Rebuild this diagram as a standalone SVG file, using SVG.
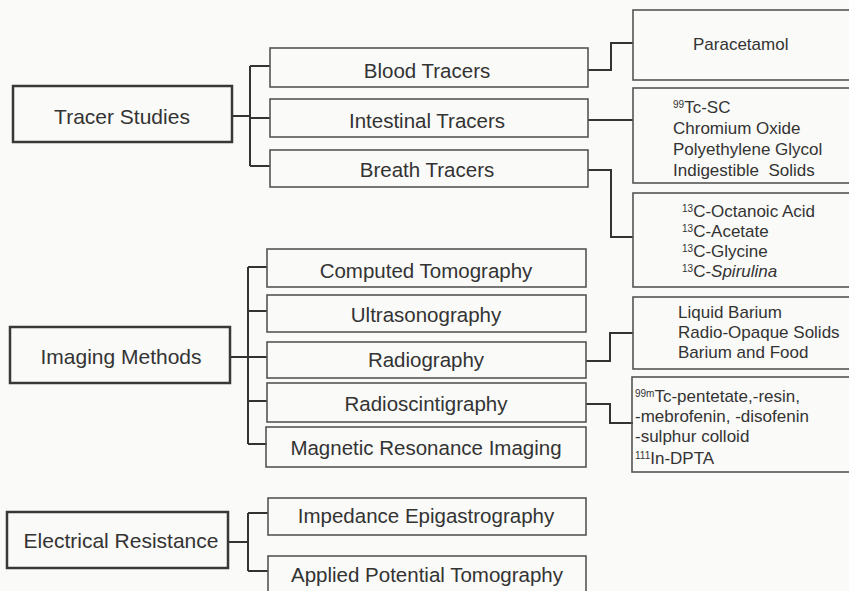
<svg xmlns="http://www.w3.org/2000/svg" width="849" height="591" viewBox="0 0 849 591">
<style>
.bg{fill:#fafaf8}
.main{fill:none;stroke:#383838;stroke-width:2.5}
.box{fill:none;stroke:#555;stroke-width:1.6}
.conn{fill:none;stroke:#333;stroke-width:2}
text{font-family:"Liberation Sans",Arial,sans-serif;fill:#333}
.t1{font-size:21px;text-anchor:middle}
.t2{font-size:20.5px;text-anchor:middle}
.t3{font-size:17px}
.sup{font-size:10px}
</style>
<rect class="bg" x="0" y="0" width="849" height="591"/>
<g id="connectors">
<path class="conn" d="M232,116 H250 M250,66 V166 M250,66 H270 M250,118 H270 M250,166 H270"/>
<path class="conn" d="M588,70 H611 V43 H633"/>
<path class="conn" d="M588,120 H633"/>
<path class="conn" d="M588,170 H611 V237 H633"/>
<path class="conn" d="M230,357 H248 M248,267 V444 M248,267 H267 M248,311 H267 M248,357 H267 M248,401 H267 M248,444 H267"/>
<path class="conn" d="M586,361 H610 V333 H633"/>
<path class="conn" d="M586,404 H610 V423 H633"/>
<path class="conn" d="M228,542 H248 M248,513 V571 M248,513 H268 M248,571 H268"/>
</g>
<g id="tracer-studies"><rect class="main" x="13" y="86" width="219" height="56"/><text class="t1" x="122" y="124">Tracer Studies</text></g>
<g id="blood-tracers"><rect class="box" x="270" y="48" width="318" height="39"/><text class="t2" x="427" y="78">Blood Tracers</text></g>
<g id="intestinal-tracers"><rect class="box" x="270" y="99" width="318" height="38"/><text class="t2" x="427" y="128">Intestinal Tracers</text></g>
<g id="breath-tracers"><rect class="box" x="270" y="150" width="318" height="37"/><text class="t2" x="427" y="177">Breath Tracers</text></g>
<g id="paracetamol"><rect class="box" x="633" y="10" width="230" height="70"/><text class="t3" x="693" y="50">Paracetamol</text></g>
<g id="intestinal-agents"><rect class="box" x="633" y="88" width="230" height="95"/>
<text class="t3" x="673" y="113"><tspan class="sup" dy="-5">99</tspan><tspan dy="5">Tc-SC</tspan></text>
<text class="t3" x="673" y="134">Chromium Oxide</text>
<text class="t3" x="673" y="155">Polyethylene Glycol</text>
<text class="t3" x="673" y="176" xml:space="preserve">Indigestible  Solids</text></g>
<g id="breath-agents"><rect class="box" x="633" y="193" width="230" height="94"/>
<text class="t3" x="682" y="217"><tspan class="sup" dy="-5">13</tspan><tspan dy="5">C-Octanoic Acid</tspan></text>
<text class="t3" x="682" y="237"><tspan class="sup" dy="-5">13</tspan><tspan dy="5">C-Acetate</tspan></text>
<text class="t3" x="682" y="257"><tspan class="sup" dy="-5">13</tspan><tspan dy="5">C-Glycine</tspan></text>
<text class="t3" x="682" y="277"><tspan class="sup" dy="-5">13</tspan><tspan dy="5">C-</tspan><tspan font-style="italic">Spirulina</tspan></text></g>
<g id="imaging-methods"><rect class="main" x="10" y="327" width="220" height="56"/><text class="t1" x="121" y="364">Imaging Methods</text></g>
<g id="computed-tomography"><rect class="box" x="267" y="249" width="319" height="38"/><text class="t2" x="426" y="278">Computed Tomography</text></g>
<g id="ultrasonography"><rect class="box" x="267" y="295" width="319" height="37"/><text class="t2" x="426" y="322">Ultrasonography</text></g>
<g id="radiography"><rect class="box" x="267" y="342" width="319" height="36"/><text class="t2" x="426" y="367">Radiography</text></g>
<g id="radioscintigraphy"><rect class="box" x="267" y="383" width="319" height="39"/><text class="t2" x="426" y="411">Radioscintigraphy</text></g>
<g id="mri"><rect class="box" x="266" y="427" width="320" height="40"/><text class="t2" x="426" y="455">Magnetic Resonance Imaging</text></g>
<g id="radiography-agents"><rect class="box" x="633" y="297" width="230" height="72"/>
<text class="t3" x="678" y="318">Liquid Barium</text>
<text class="t3" x="678" y="338">Radio-Opaque Solids</text>
<text class="t3" x="678" y="358">Barium and Food</text></g>
<g id="scintigraphy-agents"><rect class="box" x="632" y="377" width="230" height="95"/>
<text class="t3" x="635" y="402"><tspan class="sup" dy="-5">99m</tspan><tspan dy="5">Tc-pentetate,-resin,</tspan></text>
<text class="t3" x="635" y="422">-mebrofenin, -disofenin</text>
<text class="t3" x="635" y="442">-sulphur colloid</text>
<text class="t3" x="635" y="464"><tspan class="sup" dy="-5">111</tspan><tspan dy="5">In-DPTA</tspan></text></g>
<g id="electrical-resistance"><rect class="main" x="7" y="512" width="221" height="56"/><text class="t1" x="121" y="548">Electrical Resistance</text></g>
<g id="impedance-epigastrography"><rect class="box" x="268" y="498" width="318" height="37"/><text class="t2" x="426" y="523">Impedance Epigastrography</text></g>
<g id="applied-potential-tomography"><rect class="box" x="268" y="556" width="318" height="40"/><text class="t2" x="427" y="582">Applied Potential Tomography</text></g>
</svg>
